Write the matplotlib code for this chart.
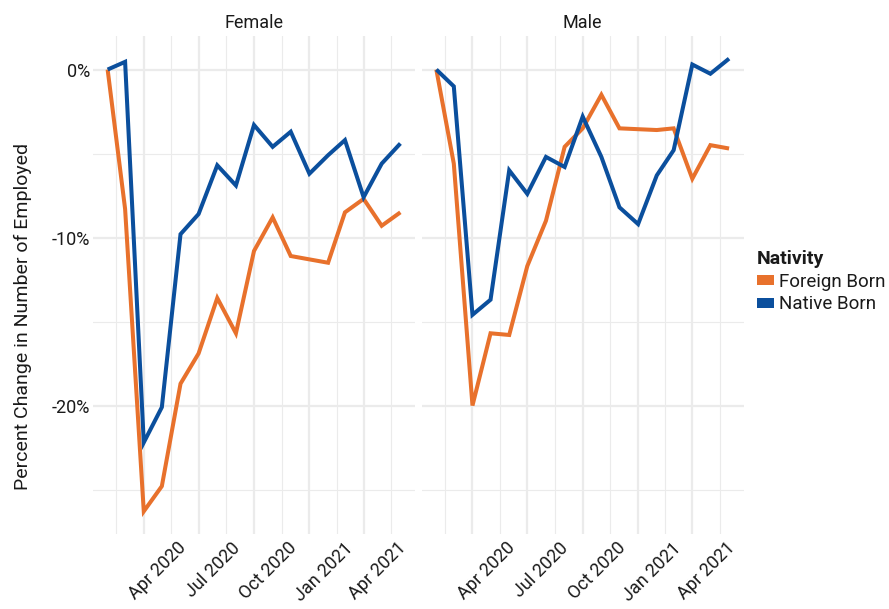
import pandas as pd
import numpy as np
import matplotlib
matplotlib.use('Agg')
import matplotlib.pyplot as plt
import matplotlib.dates as mdates
import matplotlib.transforms as mtransforms
from matplotlib.patches import Patch

plt.rcParams['font.family'] = ['Roboto', 'DejaVu Sans']

# monthly observations, Feb 2020 - Jun 2021
months = pd.date_range('2020-02-01', '2021-06-01', freq='MS')

female_foreign = [0, -8.3, -26.3, -24.8, -18.7, -16.9, -13.6, -15.7, -10.8, -8.8,
                  -11.1, -11.3, -11.5, -8.5, -7.7, -9.3, -8.5]
female_native = [0, 0.46, -22.2, -20.1, -9.8, -8.6, -5.7, -6.9, -3.3, -4.6,
                 -3.7, -6.2, -5.1, -4.2, -7.6, -5.6, -4.4]
male_foreign = [0, -5.6, -20.0, -15.7, -15.8, -11.7, -9.0, -4.6, -3.5, -1.5,
                -3.5, -3.55, -3.6, -3.5, -6.5, -4.5, -4.7]
male_native = [0, -1.0, -14.6, -13.7, -6.0, -7.4, -5.2, -5.8, -2.8, -5.2,
               -8.2, -9.2, -6.3, -4.8, 0.3, -0.25, 0.65]

panels = ['Female', 'Male']
groups = ['Foreign Born', 'Native Born']
colors = {'Foreign Born': '#E8712C', 'Native Born': '#0B4F9D'}
series = {
    'Female': {'Foreign Born': female_foreign, 'Native Born': female_native},
    'Male': {'Foreign Born': male_foreign, 'Native Born': male_native},
}

major_dates = pd.to_datetime(['2020-04-01', '2020-07-01', '2020-10-01',
                              '2021-01-01', '2021-04-01'])
major_labels = ['Apr 2020', 'Jul 2020', 'Oct 2020', 'Jan 2021', 'Apr 2021']

W, H = 889, 609
fig = plt.figure(figsize=(W / 100, H / 100), dpi=100)
txt = '#1a1a1a'

# ggplot-like 5% expansion
xnum = mdates.date2num(months)
xpad = (xnum[-1] - xnum[0]) * 0.05
all_vals = np.concatenate([female_foreign, female_native, male_foreign, male_native])
ypad = (all_vals.max() - all_vals.min()) * 0.05
ylim = (all_vals.min() - ypad, all_vals.max() + ypad)

# minor breaks halfway between quarter starts
q = mdates.date2num(pd.date_range('2020-01-01', '2021-07-01', freq='QS'))
minor_x = (q[:-1] + q[1:]) / 2

lefts = [93, 421.7]
for i, p in enumerate(panels):
    ax = fig.add_axes([lefts[i] / W, (H - 534) / H, 322 / W, 498 / H])
    for g in groups:
        ax.plot(months, series[p][g], color=colors[g], lw=2.9, solid_joinstyle='miter',
                solid_capstyle='butt', zorder=3)
    ax.set_xlim(xnum[0] - xpad, xnum[-1] + xpad)
    ax.set_ylim(*ylim)
    ax.set_xticks(mdates.date2num(major_dates))
    ax.set_xticklabels(major_labels)
    ax.set_xticks(minor_x, minor=True)
    ax.set_yticks([0, -10, -20])
    ax.set_yticks([-5, -15, -25], minor=True)
    ax.grid(which='major', color='#EBEBEB', lw=1.6, zorder=0)
    ax.grid(which='minor', color='#EBEBEB', lw=0.8, zorder=0)
    ax.tick_params(which='both', length=0, labelsize=13, colors=txt)
    ax.tick_params(axis='x', pad=3.5)
    ax.tick_params(axis='y', pad=2)
    for s in ax.spines.values():
        s.set_visible(False)
    for lab in ax.get_xticklabels():
        lab.set_rotation(45)
        lab.set_ha('center')
        lab.set_va('top')
        lab.set_transform(lab.get_transform() +
                          mtransforms.ScaledTranslation(0.14, 0, fig.dpi_scale_trans))
    ax.set_title(p, fontsize=13, pad=6, color=txt)
    if i == 0:
        ax.set_yticklabels(['0%', '-10%', '-20%'])
    else:
        ax.set_yticklabels([])

fig.text(23 / W, 1 - 316 / H, 'Percent Change in Number of Employed', rotation=90,
         ha='center', va='center', fontsize=14, color=txt)

handles = [Patch(facecolor=colors[g], edgecolor='none') for g in groups]
leg = fig.legend(handles, groups, title='Nativity', loc='upper left',
                 bbox_to_anchor=(757 / W, 1 - 250 / H), frameon=False,
                 fontsize=13.5, title_fontproperties={'weight': 'bold', 'size': 14},
                 handlelength=0.9, handleheight=0.42, handletextpad=0.25,
                 labelspacing=0.25, borderpad=0, borderaxespad=0, alignment='left')
for t in leg.get_texts():
    t.set_color(txt)
leg.get_title().set_color(txt)

fig.savefig('out.png', dpi=100)
plt.close()
